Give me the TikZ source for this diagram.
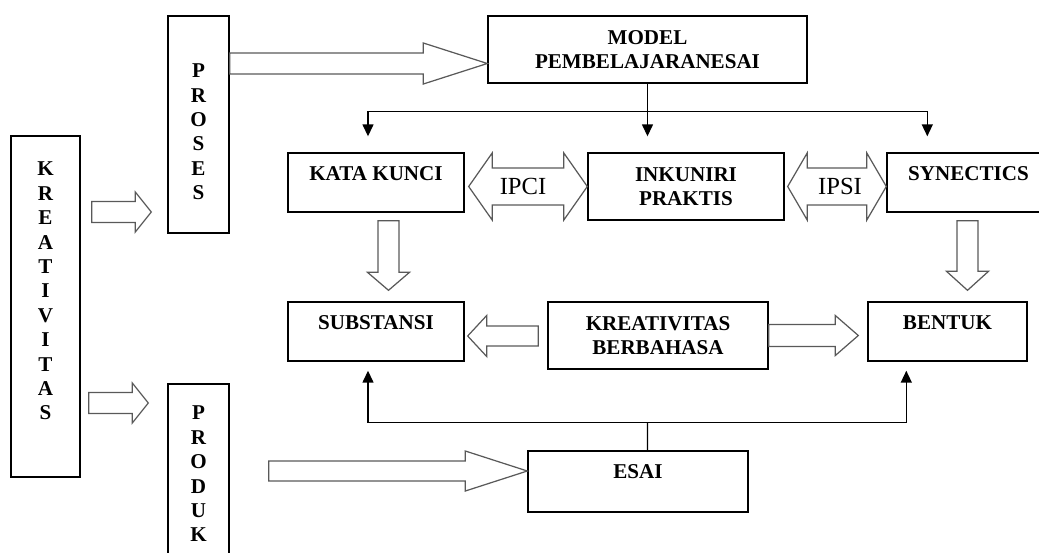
\documentclass[tikz,border=0pt]{standalone}
\usepackage{fontspec}
\setmainfont{Liberation Serif}
\usetikzlibrary{arrows.meta, calc, positioning}

\begin{document}
\begin{tikzpicture}[x=0.02cm, y=-0.02cm, line width=0.8pt]
% Styles
    \tikzset{
      box/.style={rectangle, draw, inner sep=2pt, align=center, font=\fontsize{12}{13.4}\selectfont\bfseries},
      onetop/.style={box, text depth=0.36cm},
      vbox/.style={rectangle, draw, inner sep=2pt, align=center, text depth=0pt, font=\fontsize{12}{13.9}\selectfont\bfseries},
      lbl/.style={font=\fontsize{14}{16}\selectfont, inner sep=0pt},
      line/.style={draw, -{Triangle[length=0.24cm, width=0.22cm]}},
      fat/.style args={#1/#2/#3}{draw=black!65, line width=0.7pt, line join=miter,
        to path={let \p1=(\tikztostart), \p2=(\tikztotarget), \p3=($(\p2)!#3!(\p1)$) in
          ($(\p1)!#1!90:(\p2)$) -- ($(\p3)!#1!90:(\p2)$) -- ($(\p3)!#2!90:(\p2)$) -- (\p2)
          -- ($(\p3)!#2!-90:(\p2)$) -- ($(\p3)!#1!-90:(\p2)$) -- ($(\p1)!#1!-90:(\p2)$) -- cycle}},
      fattwo/.style args={#1/#2/#3}{draw=black!65, line width=0.7pt, line join=miter,
        to path={let \p1=(\tikztostart), \p2=(\tikztotarget), \p3=($(\p1)!#3!(\p2)$), \p4=($(\p2)!#3!(\p1)$) in
          (\p1) -- ($(\p3)!#2!90:(\p2)$) -- ($(\p3)!#1!90:(\p2)$) -- ($(\p4)!#1!90:(\p2)$) -- ($(\p4)!#2!90:(\p2)$) -- (\p2)
          -- ($(\p4)!#2!-90:(\p2)$) -- ($(\p4)!#1!-90:(\p2)$) -- ($(\p3)!#1!-90:(\p2)$) -- ($(\p3)!#2!-90:(\p2)$) -- cycle}}
    }
    \useasboundingbox (0,0) rectangle (1039,552);
    \clip (0,0) rectangle (1039,552);

    % Boxes
    \node [vbox, minimum width=1.38cm, minimum height=6.82cm, text height=4.54cm] (kreat) at (45.5,306.5) {K\\R\\E\\A\\T\\I\\V\\I\\T\\A\\S};
    \node [vbox, minimum width=1.22cm, minimum height=4.34cm, text height=3.01cm] (proses) at (198.5,124.5) {P\\R\\O\\S\\E\\S};
    \node [vbox, minimum width=1.22cm, minimum height=3.6cm, text height=2.72cm] (produk) at (198.5,474) {P\\R\\O\\D\\U\\K};
    \node [box, minimum width=6.38cm, minimum height=1.34cm] (model) at (647.5,49.5) {MODEL\\PEMBELAJARANESAI};
    \node [onetop, minimum width=3.52cm, minimum height=1.18cm] (kata) at (376,182.5) {KATA KUNCI};
    \node [box, minimum width=3.92cm, minimum height=1.34cm] (inkuiri) at (686,186.5) {INKUNIRI\\PRAKTIS};
    \node [onetop, minimum width=3.26cm, minimum height=1.18cm] (synectics) at (968.5,182.5) {SYNECTICS};
    \node [onetop, minimum width=3.52cm, minimum height=1.18cm] (subst) at (376,331.5) {SUBSTANSI};
    \node [box, minimum width=4.4cm, minimum height=1.34cm] (kb) at (658,335.5) {KREATIVITAS\\BERBAHASA};
    \node [onetop, minimum width=3.18cm, minimum height=1.18cm] (bentuk) at (947.5,331.5) {BENTUK};
    \node [onetop, text depth=0.38cm, minimum width=4.4cm, minimum height=1.22cm] (esai) at (638,481.5) {ESAI};

    % Labels of the double arrows
    \node [lbl] (ipci) at (523,186.5) {IPCI};
    \node [lbl] (ipsi) at (840,186.5) {IPSI};

    % Block arrows
    \path [fat=0.21cm/0.41cm/1.28cm] ($(proses.east)+(0,-61)$) to ($(model.west)+(0,14)$);
    \path [fat=0.21cm/0.4cm/0.32cm] ($(kreat.east)+(11,-94.5)$) to ($(proses.west)+(-16,87.5)$);
    \path [fat=0.21cm/0.4cm/0.32cm] ($(kreat.east)+(8,96.5)$) to ($(produk.west)+(-19,-71)$);
    \path [fat=0.2cm/0.4cm/1.24cm] ($(produk.east)+(39,-3)$) to ($(esai.west)+(0,-10.5)$);
    \path [fattwo=0.37cm/0.67cm/0.47cm] ($(kata.east)+(4,4)$) to (inkuiri.west);
    \path [fattwo=0.37cm/0.67cm/0.39cm] ($(inkuiri.east)+(3,0)$) to ($(synectics.west)+(0,4)$);
    \path [fat=0.21cm/0.42cm/0.36cm] ($(kata.south)+(12.5,8)$) to ($(subst.north)+(12.5,-11)$);
    \path [fat=0.21cm/0.42cm/0.38cm] ($(synectics.south)+(-1,8)$) to ($(bentuk.north)+(20,-11)$);
    \path [fat=0.2cm/0.41cm/0.38cm] ($(kb.west)+(-9,0.5)$) to ($(subst.east)+(3,4.5)$);
    \path [fat=0.22cm/0.4cm/0.46cm] (kb.east) to ($(bentuk.west)+(-9,4)$);

    % Thin connectors
    \coordinate (split) at ($(model.south)+(0,28)$);
    \coordinate (join) at ($(esai.north)+(9.5,-28)$);
    \path [line, shorten >=0.32cm] (model.south) -- (model.south |- inkuiri.north);
    \path [line, shorten >=0.32cm] (split) -| ([xshift=-0.16cm]kata.north);
    \path [line, shorten >=0.32cm] (split) -| ([xshift=0.82cm]synectics.north west);
    \path [draw] ([xshift=0.19cm]esai.north) -- (join);
    \path [line, shorten >=0.18cm] (join) -| ([xshift=-0.16cm]subst.south);
    \path [line, shorten >=0.18cm] (join) -| ([xshift=0.78cm]bentuk.south west);
\end{tikzpicture}
\end{document}
